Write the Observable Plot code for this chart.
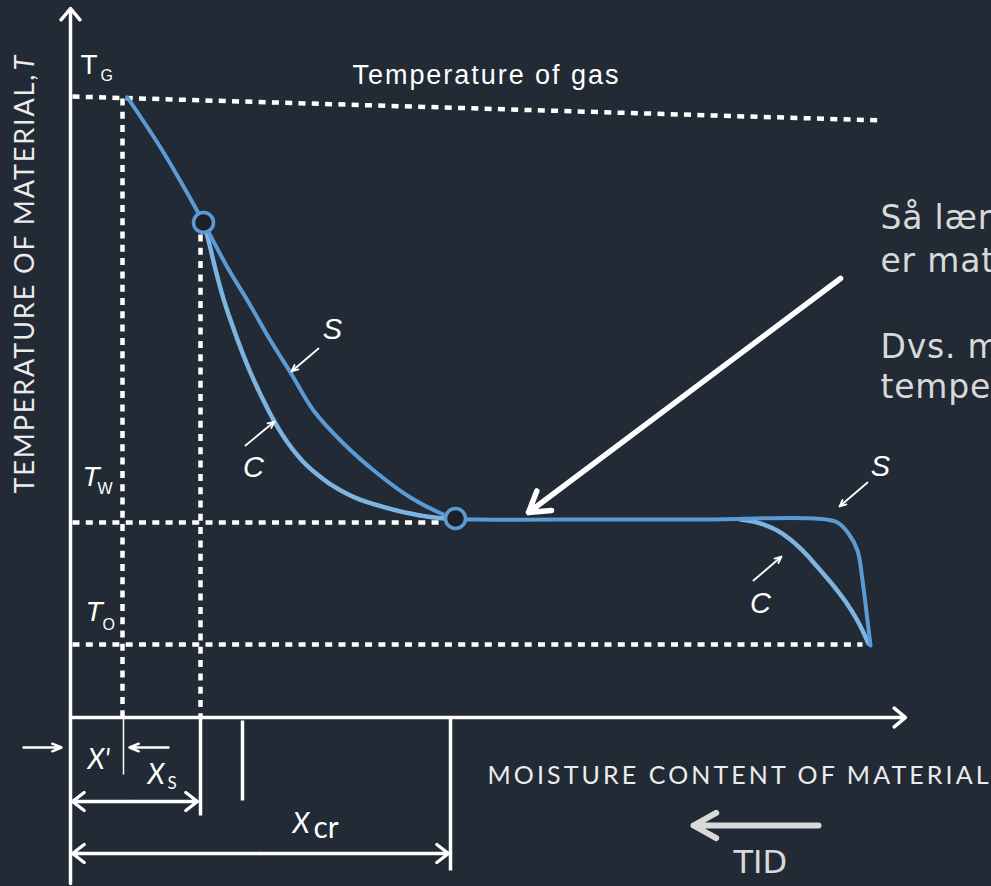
<!DOCTYPE html>
<html>
<head>
<meta charset="utf-8">
<script src="https://cdn.jsdelivr.net/npm/d3@7"></script>
<script src="https://cdn.jsdelivr.net/npm/@observablehq/plot@0.6"></script>
<style>
html, body { margin: 0; padding: 0; background: #222a35; overflow: hidden; }
#chart svg { display: block; }
</style>
</head>
<body>
<div id="chart"></div>
<script>
// ---- Diagram data (units: moisture content → x, material temperature → y; origin at axes crossing) ----
const sCurve = [[57,620],[90,570],[117,524],[133,495],[157,450],[177,417],[200,377],[220,345],[243,307],[273,274],[307,244],[340,220],[373,203],[385,199],[410,198],[530,198],[630,198],[745,199],[767,195],[778,184],[787,167],[792,137],[797,97],[800,72]];
const cCurveLeft = [[133,495],[138,477],[144,452],[152,422],[163,389],[177,352],[192,319],[208,289],[228,261],[252,239],[280,222],[315,210],[350,202],[385,198]];
const cCurveRight = [[670,198],[690,194],[710,185],[730,169],[750,147],[766,128],[779,110],[789,93],[798,74]];
const turningPoints = [[133,495],[385,199]];

const dottedGuides = [
  {x1: 2, y1: 621, x2: 813, y2: 597},   // temperature of gas
  {x1: 2, y1: 195, x2: 375, y2: 195},   // Tw
  {x1: 2, y1: 73,  x2: 792, y2: 73},    // T0
  {x1: 52, y1: 619, x2: 52, y2: 0},     // X'
  {x1: 130, y1: 483, x2: 130, y2: 0}    // Xs
];
const axesArrows = [
  {x1: 0, y1: -166, x2: 0, y2: 709},
  {x1: 0, y1: 0, x2: 835, y2: 0}
];
const thickTicks = [
  {x1: 130, y1: 0, x2: 130, y2: -98},
  {x1: 172, y1: -3, x2: 172, y2: -83},
  {x1: 380, y1: 0, x2: 380, y2: -153}
];
const thinTicks = [{x1: 53, y1: 0, x2: 53, y2: -57}];
const spanArrows = [
  {x1: 64, y1: -84, x2: 2, y2: -84}, {x1: 64, y1: -84, x2: 127, y2: -84},
  {x1: 190, y1: -136, x2: 2, y2: -136}, {x1: 190, y1: -136, x2: 378, y2: -136}
];
const xPrimeArrows = [
  {x1: -47, y1: -30, x2: -9, y2: -30},
  {x1: 98, y1: -30, x2: 59, y2: -30}
];
const pointerArrows = [
  {x1: 248, y1: 369, x2: 221, y2: 346},
  {x1: 175, y1: 272, x2: 204, y2: 296},
  {x1: 797, y1: 235, x2: 769, y2: 211},
  {x1: 683, y1: 137, x2: 711, y2: 161}
];
const bigArrow = [{x1: 770, y1: 439, x2: 458, y2: 205}];
const timeArrow = [{x1: 748, y1: -108, x2: 623, y2: -108}];

const curveLabels = [
  {x: 262, y: 388, text: "S"}, {x: 183, y: 250, text: "C"},
  {x: 810, y: 251, text: "S"}, {x: 690, y: 114, text: "C"}
];
const tUpright = [{x: 10, y: 644, text: "T"}];
const tItalic = [{x: 12, y: 232, text: "T"}, {x: 15, y: 97, text: "T"}];
const tSubs = [{x: 30, y: 637, text: "G"}, {x: 27, y: 224, text: "W"}, {x: 32, y: 88, text: "O"}];
const gasLabel = [{x: 282, y: 634, text: "Temperature of gas"}];
const xLabels = [{x: 17, y: -51, text: "X'"}, {x: 77, y: -66, text: "X"}, {x: 222, y: -115, text: "X"}];
const xSubSmall = [{x: 97, y: -71, text: "S"}];
const xSubLarge = [{x: 243, y: -120, text: "cr"}];
const yTitle = [{x: -37, y: 224, text: "TEMPERATURE OF MATERIAL,"}];
const yTitleT = [{x: -37, y: 647, text: "T"}];
const xTitle = [{x: 417, y: -66, text: "MOISTURE CONTENT OF MATERIAL"}];
const timeLabel = [{x: 663, y: -155, text: "TID"}];
const noteLines = [
  {x: 810, y: 489, text: "Så længe overfladen er våd,"},
  {x: 810, y: 446, text: "er materialets temperatur"},
  {x: 810, y: 360, text: "Dvs. materialet har"},
  {x: 810, y: 320, text: "temperaturen Tw"}
];
const textLengths = [
  ["Temperature of gas", 266],
  ["TEMPERATURE OF MATERIAL,", 419],
  ["MOISTURE CONTENT OF MATERIAL", 501]
];

const BG = "#222a35";
const BLUE = "#5b9bd5";
const WHITE = "#ffffff";

const chart = Plot.plot({
  width: 991,
  height: 886,
  margin: 0,
  x: {domain: [-70, 921], axis: null},
  y: {domain: [-169, 717], axis: null},
  style: {background: BG, overflow: "hidden"},
  marks: [
    Plot.link(dottedGuides, {x1: "x1", y1: "y1", x2: "x2", y2: "y2", stroke: WHITE, strokeWidth: 4.5, strokeDasharray: "7,6.3"}),
    Plot.line(cCurveLeft, {curve: "monotone-x", stroke: "#7db4e2", strokeWidth: 4.5, strokeDasharray: "1.4,1.2"}),
    Plot.line(cCurveRight, {curve: "monotone-x", stroke: "#7db4e2", strokeWidth: 4.5, strokeDasharray: "1.4,1.2"}),
    Plot.line(sCurve, {curve: "catmull-rom", stroke: BLUE, strokeWidth: 4}),
    Plot.dot(turningPoints, {r: 10, fill: "#1d2026", stroke: BLUE, strokeWidth: 3.5}),
    Plot.arrow(axesArrows, {x1: "x1", y1: "y1", x2: "x2", y2: "y2", stroke: WHITE, strokeWidth: 3.5, headAngle: 80, headLength: 6.3, strokeLinecap: "round"}),
    Plot.link(thickTicks, {x1: "x1", y1: "y1", x2: "x2", y2: "y2", stroke: WHITE, strokeWidth: 3.5}),
    Plot.link(thinTicks, {x1: "x1", y1: "y1", x2: "x2", y2: "y2", stroke: WHITE, strokeWidth: 1.5}),
    Plot.arrow(spanArrows, {x1: "x1", y1: "y1", x2: "x2", y2: "y2", stroke: WHITE, strokeWidth: 3.3, headAngle: 75, headLength: 6.7, strokeLinecap: "round"}),
    Plot.arrow(xPrimeArrows, {x1: "x1", y1: "y1", x2: "x2", y2: "y2", stroke: WHITE, strokeWidth: 2.5, headAngle: 45, headLength: 6}),
    Plot.arrow(pointerArrows, {x1: "x1", y1: "y1", x2: "x2", y2: "y2", stroke: WHITE, strokeWidth: 1.8, headAngle: 48, headLength: 6}),
    Plot.arrow(bigArrow, {x1: "x1", y1: "y1", x2: "x2", y2: "y2", stroke: WHITE, strokeWidth: 5.5, headAngle: 64, headLength: 6.3, strokeLinecap: "round"}),
    Plot.arrow(timeArrow, {x1: "x1", y1: "y1", x2: "x2", y2: "y2", stroke: "#d9d9d9", strokeWidth: 6, headAngle: 58, headLength: 6.5, strokeLinecap: "round"}),

    Plot.text(curveLabels, {x: "x", y: "y", text: "text", fontFamily: "Liberation Sans", fontStyle: "italic", fontSize: 29, fill: WHITE}),
    Plot.text(tUpright, {x: "x", y: "y", text: "text", fontFamily: "Liberation Sans", fontSize: 28, fill: WHITE, textAnchor: "start", lineAnchor: "bottom"}),
    Plot.text(tItalic, {x: "x", y: "y", text: "text", fontFamily: "Liberation Sans", fontStyle: "italic", fontSize: 28, fill: WHITE, textAnchor: "start", lineAnchor: "bottom"}),
    Plot.text(tSubs, {x: "x", y: "y", text: "text", fontFamily: "Liberation Sans", fontSize: 16, fill: WHITE, textAnchor: "start", lineAnchor: "bottom"}),
    Plot.text(gasLabel, {x: "x", y: "y", text: "text", fontFamily: "Liberation Sans", fontSize: 27, fill: WHITE, textAnchor: "start", lineAnchor: "bottom"}),
    Plot.text(xLabels, {x: "x", y: "y", text: "text", fontFamily: "Lato", fontStyle: "italic", fontSize: 28, fill: WHITE, textAnchor: "start", lineAnchor: "bottom"}),
    Plot.text(xSubSmall, {x: "x", y: "y", text: "text", fontFamily: "Lato", fontSize: 17, fill: WHITE, textAnchor: "start", lineAnchor: "bottom"}),
    Plot.text(xSubLarge, {x: "x", y: "y", text: "text", fontFamily: "Lato", fontSize: 30, fill: WHITE, textAnchor: "start", lineAnchor: "bottom"}),
    Plot.text(yTitle, {x: "x", y: "y", text: "text", rotate: -90, fontFamily: "Lato", fontSize: 27, fill: "#ececec", textAnchor: "start", lineAnchor: "bottom"}),
    Plot.text(yTitleT, {x: "x", y: "y", text: "text", rotate: -90, fontFamily: "Lato", fontStyle: "italic", fontSize: 27, fill: "#ececec", textAnchor: "start", lineAnchor: "bottom"}),
    Plot.text(xTitle, {x: "x", y: "y", text: "text", fontFamily: "Lato", fontSize: 25, fill: "#ececec", textAnchor: "start", lineAnchor: "bottom"}),
    Plot.text(timeLabel, {x: "x", y: "y", text: "text", fontFamily: "DejaVu Sans", fontSize: 32, fill: "#d9d9d9", textAnchor: "start", lineAnchor: "bottom"}),
    Plot.text(noteLines, {x: "x", y: "y", text: "text", fontFamily: "DejaVu Sans", fontSize: 33, fill: "#d9d9d9", textAnchor: "start", lineAnchor: "bottom"})
  ]
});

const lengthMap = new Map(textLengths);
chart.querySelectorAll("text").forEach((t) => {
  const L = lengthMap.get(t.textContent);
  if (L) {
    t.setAttribute("textLength", L);
    t.setAttribute("lengthAdjust", "spacing");
  }
});
chart.querySelectorAll("text").forEach((t) => {
  if (noteLines.some((d) => d.text === t.textContent)) t.style.letterSpacing = "0.8px";
});
document.getElementById("chart").append(chart);
</script>
</body>
</html>
